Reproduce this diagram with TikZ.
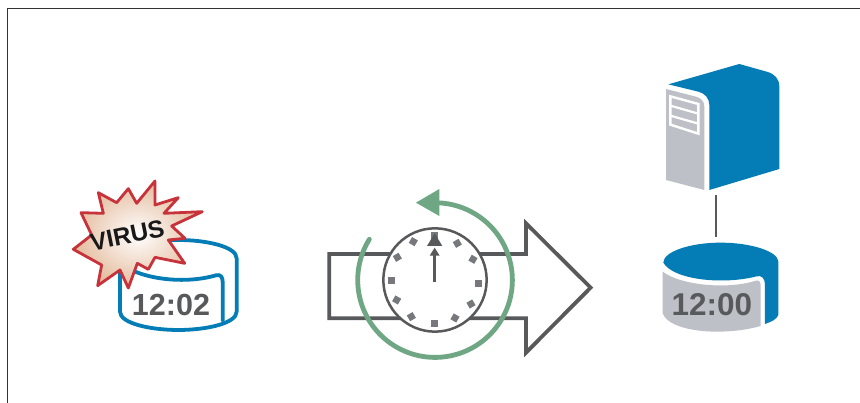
\documentclass[tikz,border=0pt]{standalone}
\usepackage{fontspec}
\setmainfont{Liberation Sans}
\definecolor{dk}{HTML}{58595B}
\definecolor{blu}{HTML}{047CB5}
\definecolor{gry}{HTML}{BEC0C8}
\definecolor{grn}{HTML}{6FA784}
\definecolor{tick}{HTML}{77787B}
\definecolor{rd}{HTML}{C8323A}
\definecolor{tan}{HTML}{E4BC9E}
\tikzset{
  frameline/.style={draw=black!80,line width=1pt},
  cyl/.style={draw=blu,line width=3.8pt,line join=round,line cap=round,fill=white},
  big/.style={font=\bfseries\fontsize{30.5}{30.5}\selectfont,text=dk,inner sep=0pt},
  hand/.style={fill=dk,draw=none},
}
\begin{document}
\begin{tikzpicture}[x=1pt,y=-1pt]
\useasboundingbox (0,0) rectangle (860,403);
\fill[white] (0,0) rectangle (860,403);
\draw[frameline] (7.5,403) -- (7.5,8.5) -- (860,8.5);

% left cylinder and virus burst
\begin{scope}[shift={(60,170)},scale=0.3333]
\draw[cyl] (180,265) .. controls (180,230) and (270,210) .. (355,210)
  .. controls (440,210) and (530,230) .. (530,265) -- (530,425)
  .. controls (530,460) and (440,480) .. (355,480)
  .. controls (270,480) and (180,460) .. (180,425) -- cycle;
\draw[draw=blu,line width=3.8pt,line cap=round,line join=round]
  (180,270) .. controls (200,315) and (350,350) .. (468,316)
  .. controls (482,312) and (488,322) .. (488,335) -- (488,452);
\shadedraw[inner color=white,outer color=tan,draw=rd,line width=2.8pt,line join=round]
  (285,33) -- (285,105) -- (355,83) -- (312,130) -- (427,125) -- (335,168)
  -- (375,205) -- (325,210) -- (374,280) -- (285,262) -- (265,298) -- (232,280)
  -- (205,354) -- (180,300) -- (113,347) -- (125,285) -- (40,238) -- (95,195)
  -- (63,128) -- (130,130) -- (115,68) -- (170,98) -- (205,56) -- (230,100) -- cycle;
\node[rotate=11.5,inner sep=0pt,font=\bfseries\fontsize{24.5}{24.5}\selectfont,text={black!90}] (virus) at (202,196) {VIRUS};
\node[big] (t1202) at (333,405) {12:02};
\end{scope}

% big arrow
\begin{scope}[shift={(320,180)},scale=0.3333]
\draw[dk,line width=3.8pt,line join=miter,miter limit=10,fill=white]
  (28,222) -- (618,222) -- (618,130) -- (812,323) -- (618,518) -- (618,415) -- (28,415) -- cycle;
% clock
\draw[dk,line width=2.5pt,fill=white] (345,300) circle[radius=155];
\foreach \px/\py/\a/\s in {343/168/0/11,412/190/30/10,459/238/60/10,476/310/0/11,453/372/30/10,405/414/60/10,343/430/0/11,274/410/30/10,230/360/60/10,214/301/0/11,232/232/30/10,280/185/60/10}{
  \fill[tick,shift={(\px,\py)},rotate=\a] (-\s,-\s) rectangle (\s,\s);
}
\draw[dk,line width=2.8pt] (344,305) -- (344,215);
\fill[hand] (344,160) -- (321,198) -- (367,198) -- cycle;
\fill[hand] (344,203) -- (329,227) -- (359,227) -- cycle;
% green arc
\draw[grn,line width=4.8pt,line cap=round] (148,178) arc[start angle=211.8,end angle=-88,radius=232];
\fill[grn] (288,68) -- (358,27) -- (358,108) -- cycle;
\end{scope}

% server
\begin{scope}[shift={(650,55)},scale=0.3333]
\fill[blu] (55,88) -- (268,27) -- (350,50) .. controls (375,57) and (388,72) .. (388,95)
  -- (388,342) -- (178,405) -- (178,150) .. controls (178,130) and (165,115) .. (145,110) -- cycle;
\fill[gry] (48,102) -- (138,125) .. controls (155,130) and (163,140) .. (163,155)
  -- (163,405) -- (48,375) -- cycle;
\draw[white,line width=2.4pt,line join=miter]
  (61,124) -- (145,147) -- (145,236) -- (61,209) -- cycle;
\draw[white,line width=2.2pt] (61,152) -- (145,176) (61,182) -- (145,206);
\coordinate (srv) at (197,420);
\end{scope}

% right cylinder
\begin{scope}[shift={(650,190)},scale=0.3333]
\coordinate (db) at (197,140);
\fill[blu] (40,218) .. controls (40,185) and (120,158) .. (212,158)
  .. controls (305,158) and (385,185) .. (385,215) -- (385,375)
  .. controls (380,388) and (365,395) .. (345,402) -- (345,285)
  .. controls (345,265) and (335,255) .. (320,259)
  .. controls (220,285) and (70,270) .. (40,218) -- cycle;
\fill[gry] (38,245) .. controls (90,285) and (230,300) .. (318,272)
  .. controls (328,269) and (332,277) .. (332,288) -- (332,408)
  .. controls (290,420) and (245,425) .. (200,425)
  .. controls (120,425) and (50,405) .. (38,370) -- cycle;
\node[big,font=\bfseries\fontsize{31.5}{31.5}\selectfont] (t1200) at (186,345) {12:00};
\end{scope}
\draw[dk,line width=2.2pt] (srv) -- (db);
\end{tikzpicture}
\end{document}
